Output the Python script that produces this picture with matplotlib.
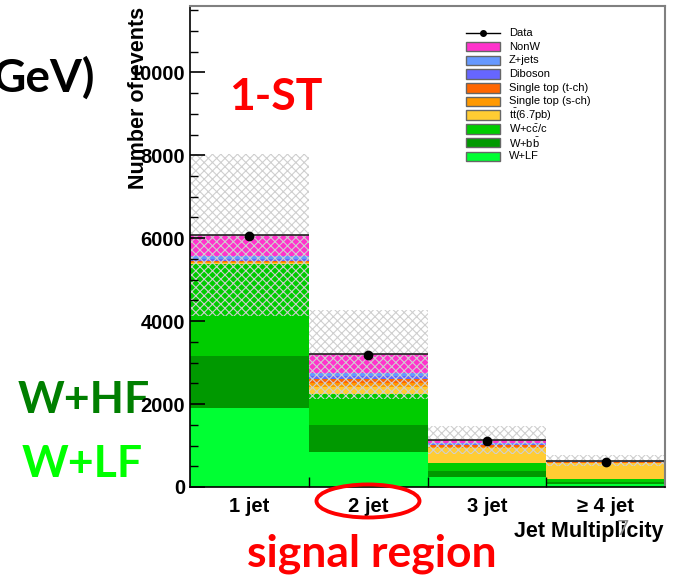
import matplotlib
matplotlib.use('Agg')
import matplotlib.pyplot as plt
import numpy as np
from matplotlib.patches import Ellipse, Rectangle
from matplotlib.lines import Line2D
from matplotlib.ticker import MultipleLocator

# jet multiplicity bins
bin_labels = ['1 jet', '2 jet', '3 jet', '≥ 4 jet']

# expected event counts per bin, listed bottom -> top of the stack
w_lf    = [1900, 850, 240, 80]
w_bb    = [1260, 640, 145, 50]
w_cc    = [2230, 750, 195, 60]
ttbar   = [20, 180, 360, 390]
stop_s  = [10, 80, 30, 10]
stop_t  = [40, 100, 50, 15]
diboson = [50, 80, 20, 5]
zjets   = [60, 80, 20, 5]
nonw    = [510, 440, 70, 15]

data = [6050, 3180, 1110, 610]
syst = [1960, 1080, 330, 130]

W, H = 689, 579
def fx(px):
    return px / W
def fy(py):
    return 1 - py / H

plt.rcParams['font.family'] = 'Liberation Sans'
plt.rcParams['font.weight'] = 'bold'
plt.rcParams['mathtext.fontset'] = 'custom'
plt.rcParams['mathtext.rm'] = 'Liberation Sans:weight=normal'
plt.rcParams['hatch.linewidth'] = 0.8

fig = plt.figure(figsize=(W / 100, H / 100), dpi=100)
ax = fig.add_axes([fx(190), fy(487), (665 - 190) / W, (487 - 6) / H])

x = np.arange(len(bin_labels))
components = [
    ('W+LF', w_lf, '#00ff33'),
    (r'W+$\mathrm{b\bar{b}}$', w_bb, '#009900'),
    (r'W+$\mathrm{c\bar{c}}$/c', w_cc, '#00cc00'),
    (r'$\mathrm{t\bar{t}}$(6.7pb)', ttbar, '#ffcc33'),
    ('Single top (s-ch)', stop_s, '#ff9900'),
    ('Single top (t-ch)', stop_t, '#ff6600'),
    ('Diboson', diboson, '#6666ff'),
    ('Z+jets', zjets, '#6699ff'),
    ('NonW', nonw, '#ff33cc'),
]

bottom = np.zeros(len(x))
for name, vals, col in components:
    ax.bar(x, vals, width=1.0, bottom=bottom, color=col, linewidth=0)
    bottom += np.array(vals)
total = bottom

# uncertainty band on the prediction
unc = np.array(syst)
ax.bar(x, 2 * unc, width=1.0, bottom=total - unc, facecolor='none',
       edgecolor='#cfcfcf', hatch='xxxx', linewidth=0)
ax.hlines(total, x - 0.5, x + 0.5, color='#222222', lw=1.2)

ax.errorbar(x, data, yerr=np.sqrt(data), fmt='o', color='black', ms=6,
            elinewidth=1, capsize=0, zorder=5)

ax.set_xlim(-0.5, 3.5)
ax.set_ylim(0, 11600)

ax.set_xticks(x)
ax.set_xticklabels(bin_labels)
ax.set_xticks([0.5, 1.5, 2.5], minor=True)
ax.tick_params(axis='x', which='major', length=0, pad=7, labelsize=14.5)
ax.tick_params(axis='x', which='minor', direction='in', length=7, width=1)
ax.yaxis.set_major_locator(MultipleLocator(2000))
ax.yaxis.set_minor_locator(MultipleLocator(500))
ax.tick_params(axis='y', which='major', direction='in', length=11, width=1.2, labelsize=14.5)
ax.tick_params(axis='y', which='minor', direction='in', length=6, width=1)

for side in ['top', 'right']:
    ax.spines[side].set_color('#808080')
    ax.spines[side].set_linewidth(1.5)
for side in ['left', 'bottom']:
    ax.spines[side].set_color('black')
    ax.spines[side].set_linewidth(1.2)

# legend drawn row by row so every entry gets the same pitch
row_y0, row_dy = 33, 13.7
box_x0, box_x1, box_h = 466, 500, 9.5
legend_font = dict(family='Liberation Sans', weight='normal', fontsize=8,
                   va='center', ha='left')
fig.add_artist(Line2D([fx(box_x0), fx(box_x1)], [fy(row_y0), fy(row_y0)],
                      color='black', lw=1, transform=fig.transFigure))
fig.add_artist(Line2D([fx((box_x0 + box_x1) / 2)], [fy(row_y0)], color='black',
                      marker='o', ms=4, transform=fig.transFigure))
fig.text(fx(509), fy(row_y0), 'Data', **legend_font)
for i, (name, vals, col) in enumerate(components[::-1], start=1):
    yc = row_y0 + i * row_dy
    fig.add_artist(Rectangle((fx(box_x0), fy(yc + box_h / 2)),
                             (box_x1 - box_x0) / W, box_h / H,
                             transform=fig.transFigure, facecolor=col,
                             edgecolor='#666666', lw=1))
    fig.text(fx(509), fy(yc), name, **legend_font)

fig.text(fx(139), fy(7), 'Number of events', rotation=90, ha='center', va='top',
         fontsize=15.5)
fig.text(fx(663), fy(537), 'Jet Multiplicity', ha='right', va='baseline',
         fontsize=15.5)

# slide annotations
big = dict(family='Lato', weight='bold', va='baseline')
fig.text(fx(95), fy(92), 'GeV)', ha='right', color='black', fontsize=33, **big)
fig.text(fx(229), fy(110), '1-ST', ha='left', color='#ff0000', fontsize=32, **big)
fig.text(fx(18), fy(413), 'W+HF', ha='left', color='#007f00', fontsize=32, zorder=-1, **big)
fig.text(fx(22), fy(477), 'W+LF', ha='left', color='#00ff00', fontsize=32, **big)
fig.text(fx(247), fy(567), 'signal region', ha='left', color='#ff0000', fontsize=32, **big)
fig.text(fx(617), fy(535), '7', ha='left', color='#8c8c8c', fontsize=15,
         family='Lato', weight='normal', va='baseline')

fig.add_artist(Ellipse((fx(368), fy(501)), width=103 / W, height=33 / H,
                       transform=fig.transFigure, fill=False,
                       edgecolor='#ff0000', lw=2.8))

fig.savefig('out.png', dpi=100)
